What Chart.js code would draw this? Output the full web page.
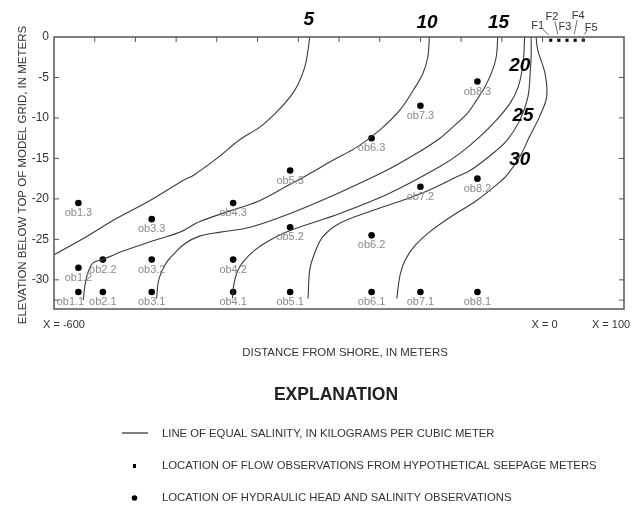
<!DOCTYPE html>
<html>
<head>
<meta charset="utf-8">
<script src="https://cdn.jsdelivr.net/npm/chart.js@4.4.1/dist/chart.umd.min.js"></script>
<style>
  html, body { margin: 0; padding: 0; background: #fff; }
</style>
</head>
<body>
<canvas id="chart" width="635" height="507"></canvas>
<script>
// lines of equal salinity (kg/m3), traced from the section
const contourLevels = [5, 10, 15, 20, 25, 30];

const line5X = [-286, -288, -292, -300, -310, -327, -347, -372, -400, -429, -441, -482, -523, -564, -600];
const line5Y = [0, -1.6, -3.7, -5.8, -7.4, -9.3, -11.1, -12.7, -15.0, -17.1, -17.7, -20.2, -22.4, -24.9, -26.9];

const line10X = [-139, -141, -147, -159, -175, -200, -228, -257, -290, -310, -347, -372, -421, -445, -482, -517, -531, -541, -552, -558, -562, -564];
const line10Y = [0, -2.5, -4.5, -6.6, -9.0, -11.5, -13.6, -15.2, -17.1, -18.2, -20.2, -21.1, -22.8, -24.1, -25.3, -26.5, -27.1, -27.5, -27.9, -29.0, -30.7, -32.5];

const line15X = [-55, -57, -63, -71, -81, -93, -110, -126, -155, -192, -249, -310, -359, -396, -421, -439, -451, -460, -467, -472, -474];
const line15Y = [0, -2.5, -4.5, -6.2, -7.8, -9.5, -11.1, -12.5, -14.4, -16.5, -19.2, -21.8, -23.5, -24.1, -24.6, -25.5, -26.6, -27.6, -28.8, -30.3, -32.3];

const line20X = [-22, -24, -30, -40, -57, -77, -102, -126, -188, -249, -310, -335, -353, -368, -375, -379, -381];
const line20Y = [0, -3.3, -6.2, -8.2, -10.3, -12.3, -14.4, -16.0, -19.3, -21.8, -23.9, -25.1, -26.3, -27.8, -29.0, -30.5, -32.3];

const line25X = [-14, -14, -15, -18, -28, -44, -65, -89, -106, -139, -167, -208, -249, -270, -281, -286, -288];
const line25Y = [0, -2.3, -4.1, -7.4, -10.3, -12.8, -14.7, -16.5, -17.3, -18.9, -20.0, -21.4, -23.0, -24.7, -27.0, -28.8, -32.3];

const line30X = [-8, -6, 3, 5, -4, -16, -28, -44, -57, -81, -114, -139, -157, -169, -175, -179];
const line30Y = [0, -1.6, -4.5, -7.4, -9.9, -12.3, -14.8, -17.1, -18.3, -20.2, -22.3, -24.1, -25.8, -27.6, -29.4, -32.3];

const lineX = [line5X, line10X, line15X, line20X, line25X, line30X];
const lineY = [line5Y, line10Y, line15Y, line20Y, line25Y, line30Y];

// hydraulic head and salinity observations
const obsNames = ["ob1.1", "ob1.2", "ob1.3", "ob2.1", "ob2.2", "ob3.1", "ob3.2", "ob3.3",
  "ob4.1", "ob4.2", "ob4.3", "ob5.1", "ob5.2", "ob5.3", "ob6.1", "ob6.2", "ob6.3",
  "ob7.1", "ob7.2", "ob7.3", "ob8.1", "ob8.2", "ob8.3"];
const obsX = [-570, -570, -570, -540, -540, -480, -480, -480, -380, -380, -380, -310, -310, -310,
  -210, -210, -210, -150, -150, -150, -80, -80, -80];
const obsY = [-31.5, -28.5, -20.5, -31.5, -27.5, -31.5, -27.5, -22.5, -31.5, -27.5, -20.5, -31.5, -23.5, -16.5,
  -31.5, -24.5, -12.5, -31.5, -18.5, -8.5, -31.5, -17.5, -5.5];

// hypothetical seepage meters
const seepNames = ["F1", "F2", "F3", "F4", "F5"];
const seepX = [10, 20, 30, 40, 50];
const seepY = [-0.4, -0.4, -0.4, -0.4, -0.4];

// axes
const yTickLabels = [0, -5, -10, -15, -20, -25, -30];
const yTickMarks = [-5, -10, -15, -20, -25, -30, -32.5];
const xTickMarks = [-550, -500, -450, -400, -350, -300, -250, -200, -150, -100, -50, 0, 50];
const xEndLabels = [-600, 0, 100];

const datasets = contourLevels.map((level, i) => ({
  label: String(level),
  data: lineX[i].map((x, j) => ({ x: x, y: lineY[i][j] })),
  showLine: true,
  pointRadius: 0,
  borderColor: "#3a3a3a",
  borderWidth: 1.1,
  tension: 0.35,
}));

datasets.push({
  label: "observations",
  data: obsX.map((x, i) => ({ x: x, y: obsY[i] })),
  pointRadius: 3.3,
  backgroundColor: "#000",
  borderWidth: 0,
  clip: false,
});

datasets.push({
  label: "seepage",
  data: seepX.map((x, i) => ({ x: x, y: seepY[i] })),
  pointStyle: "rect",
  pointRadius: 2.2,
  backgroundColor: "#000",
  borderWidth: 0,
  clip: false,
});

function text(ctx, s, x, y, font, color, align) {
  ctx.font = font;
  ctx.fillStyle = color;
  ctx.textAlign = align || "center";
  ctx.textBaseline = "middle";
  ctx.fillText(s, x, y);
}

const decorations = {
  id: "decorations",
  afterDraw(chart) {
    const ctx = chart.ctx;
    const a = chart.chartArea;
    const xs = chart.scales.x;
    const ys = chart.scales.y;
    const fnt = "Liberation Sans, Arial, sans-serif";
    ctx.save();

    // frame and inward ticks
    ctx.strokeStyle = "#555";
    ctx.lineWidth = 1.5;
    ctx.strokeRect(a.left, a.top, a.right - a.left, a.bottom - a.top);
    ctx.lineWidth = 1;
    ctx.beginPath();
    xTickMarks.forEach((v) => {
      const px = xs.getPixelForValue(v);
      ctx.moveTo(px, a.top);
      ctx.lineTo(px, a.top + 5);
    });
    yTickMarks.forEach((v) => {
      const py = ys.getPixelForValue(v);
      ctx.moveTo(a.left, py);
      ctx.lineTo(a.left + 5, py);
      ctx.moveTo(a.right, py);
      ctx.lineTo(a.right - 5, py);
    });
    ctx.stroke();

    // y tick labels
    yTickLabels.forEach((v) => {
      text(ctx, String(v), a.left - 5, ys.getPixelForValue(v), "12px " + fnt, "#333", "right");
    });

    // x end labels
    xEndLabels.forEach((v) => {
      text(ctx, "X = " + v, xs.getPixelForValue(v) + (v === -600 ? 10 : v === 100 ? -13 : 2), a.bottom + 16, "11px " + fnt, "#333");
    });

    // axis titles
    text(ctx, "DISTANCE FROM SHORE, IN METERS", 345, 353, "11.4px " + fnt, "#333");
    ctx.save();
    ctx.translate(23, 175);
    ctx.rotate(-Math.PI / 2);
    text(ctx, "ELEVATION BELOW TOP OF MODEL GRID, IN METERS", 0, 0, "11.5px " + fnt, "#333");
    ctx.restore();

    // contour labels
    const labelPos = [[-287, 2.1], [-142, 1.7], [-54, 1.8], [-28, -3.6], [-24, -9.7], [-28, -15.2]];
    contourLevels.forEach((level, i) => {
      text(ctx, String(level), xs.getPixelForValue(labelPos[i][0]), ys.getPixelForValue(labelPos[i][1]),
        "italic bold 19px " + fnt, "#000");
    });

    // observation labels
    obsNames.forEach((name, i) => {
      const shift = name === "ob1.1" ? -8 : 0;
      text(ctx, name, xs.getPixelForValue(obsX[i]) + shift, ys.getPixelForValue(obsY[i]) + 10,
        "11px " + fnt, "#8a8a8a");
    });

    // seepage meter labels with leaders
    const lab = [[-13, -14], [-7, -23], [-2, -13], [3, -24.5], [8, -12.5]];
    const lead = [[-8, -11, -2, -5], [-4, -19, -1, -6], null, [2, -20, -1, -6], [4, -10, 1, -6]];
    ctx.strokeStyle = "#444";
    ctx.lineWidth = 0.8;
    seepNames.forEach((name, i) => {
      const px = xs.getPixelForValue(seepX[i]);
      const py = ys.getPixelForValue(seepY[i]);
      text(ctx, name, px + lab[i][0], py + lab[i][1], "11px " + fnt, "#333");
      if (lead[i]) {
        ctx.beginPath();
        ctx.moveTo(px + lead[i][0], py + lead[i][1]);
        ctx.lineTo(px + lead[i][2], py + lead[i][3]);
        ctx.stroke();
      }
    });

    // explanation
    text(ctx, "EXPLANATION", 336, 395, "bold 17.5px " + fnt, "#222");
    ctx.strokeStyle = "#555";
    ctx.lineWidth = 1.5;
    ctx.beginPath();
    ctx.moveTo(122, 433);
    ctx.lineTo(148, 433);
    ctx.stroke();
    ctx.fillStyle = "#000";
    ctx.fillRect(133, 464, 3, 4);
    ctx.beginPath();
    ctx.arc(134.5, 498, 2.8, 0, Math.PI * 2);
    ctx.fill();
    const lf = "11.3px " + fnt;
    text(ctx, "LINE OF EQUAL SALINITY, IN KILOGRAMS PER CUBIC METER", 162, 434, lf, "#333", "left");
    text(ctx, "LOCATION OF FLOW OBSERVATIONS FROM HYPOTHETICAL SEEPAGE METERS", 162, 466, lf, "#333", "left");
    text(ctx, "LOCATION OF HYDRAULIC HEAD AND SALINITY OBSERVATIONS", 162, 498, lf, "#333", "left");

    ctx.restore();
  },
};

new Chart(document.getElementById("chart").getContext("2d"), {
  type: "scatter",
  data: { datasets: datasets },
  options: {
    responsive: false,
    animation: false,
    layout: { padding: { left: 54, right: 11, top: 37, bottom: 198 } },
    plugins: { legend: { display: false }, tooltip: { enabled: false } },
    scales: {
      x: { type: "linear", min: -600, max: 100, display: false },
      y: { type: "linear", min: -33.6, max: 0, display: false },
    },
  },
  plugins: [decorations],
});
</script>
</body>
</html>
